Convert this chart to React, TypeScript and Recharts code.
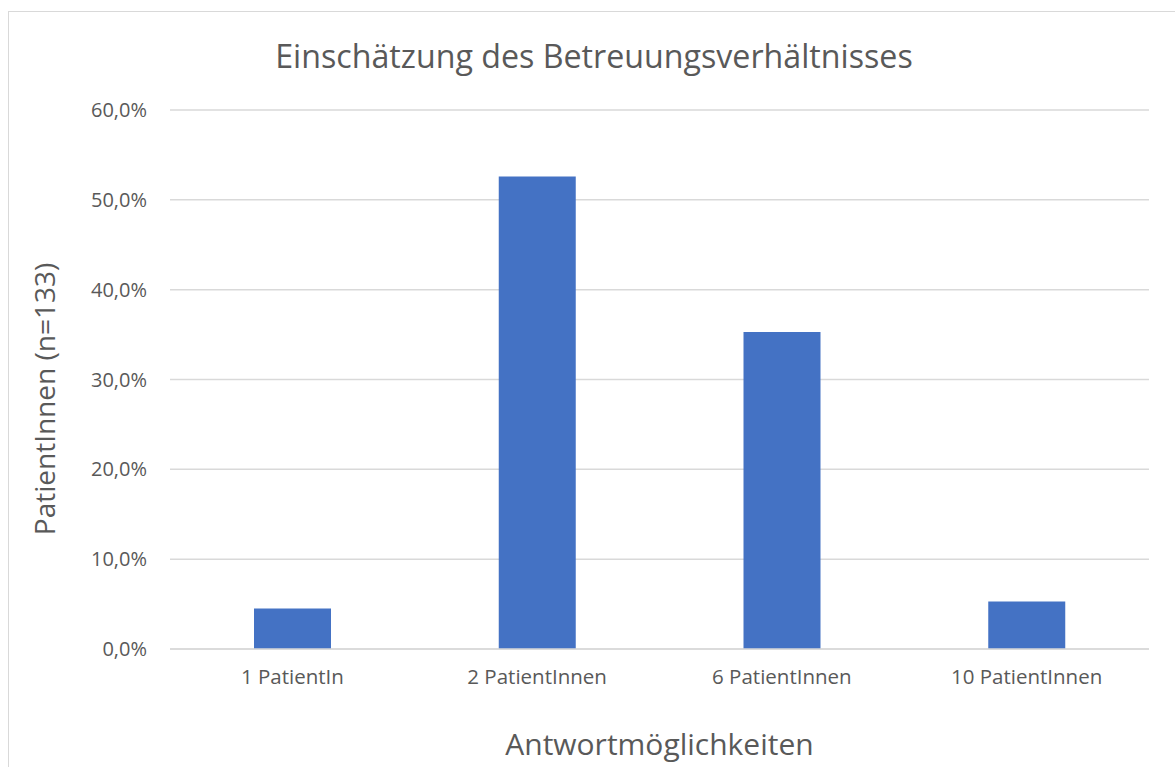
import { BarChart, Bar, XAxis, YAxis, CartesianGrid } from "recharts";

const categories = ["1 PatientIn", "2 PatientInnen", "6 PatientInnen", "10 PatientInnen"];
const shares = [4.5, 52.6, 35.3, 5.3];
const yTicks = [0, 10, 20, 30, 40, 50, 60];

const chartTitle = "Einschätzung des Betreuungsverhältnisses";
const xTitle = "Antwortmöglichkeiten";
const yTitle = "PatientInnen (n=133)";

const font = "'Open Sans', sans-serif";
const textColor = "#595959";

const data = categories.map((name, i) => ({ name, share: shares[i] }));

const pct = (v: number) => v.toFixed(1).replace(".", ",") + "%";

export default function App() {
  return (
    <div style={{ position: "absolute", left: 0, top: 0, width: 1175, height: 767, overflow: "hidden", background: "#fff", fontFamily: font }}>
      <div
        style={{
          position: "absolute",
          left: 8,
          top: 11,
          width: 1167,
          height: 756,
          borderTop: "1px solid #d9d9d9",
          borderLeft: "1px solid #d9d9d9",
          boxSizing: "border-box",
        }}
      />
      <BarChart
        width={1175}
        height={767}
        data={data}
        margin={{ top: 110, right: 26, bottom: 88, left: 0 }}
        barCategoryGap={0}
      >
        <CartesianGrid vertical={false} stroke="#d9d9d9" strokeWidth={1.5} />
        <XAxis
          dataKey="name"
          height={30}
          axisLine={{ stroke: "#d9d9d9", strokeWidth: 1.5 }}
          tickLine={false}
          tickSize={0}
          tickMargin={20}
          tick={{ fill: textColor, fontSize: 20.5, fontFamily: font }}
        />
        <YAxis
          width={170}
          domain={[0, 60]}
          ticks={yTicks}
          tickFormatter={pct}
          axisLine={false}
          tickLine={false}
          tickSize={0}
          tickMargin={23}
          tick={{ fill: textColor, fontSize: 20, fontFamily: font }}
        />
        <Bar dataKey="share" fill="#4472c4" barSize={77} isAnimationActive={false} />
      </BarChart>
      <div style={{ position: "absolute", left: 0, width: 1188, top: 35, textAlign: "center", color: textColor, fontSize: 32.2, lineHeight: "42px" }}>
        {chartTitle}
      </div>
      <div style={{ position: "absolute", left: 0, width: 1319, top: 729, textAlign: "center", color: textColor, fontSize: 30, lineHeight: "30px" }}>
        {xTitle}
      </div>
      <div
        style={{
          position: "absolute",
          left: 44,
          top: 399,
          transform: "translate(-50%, -50%) rotate(-90deg)",
          whiteSpace: "nowrap",
          color: textColor,
          fontSize: 28,
          lineHeight: "38px",
        }}
      >
        {yTitle}
      </div>
    </div>
  );
}
